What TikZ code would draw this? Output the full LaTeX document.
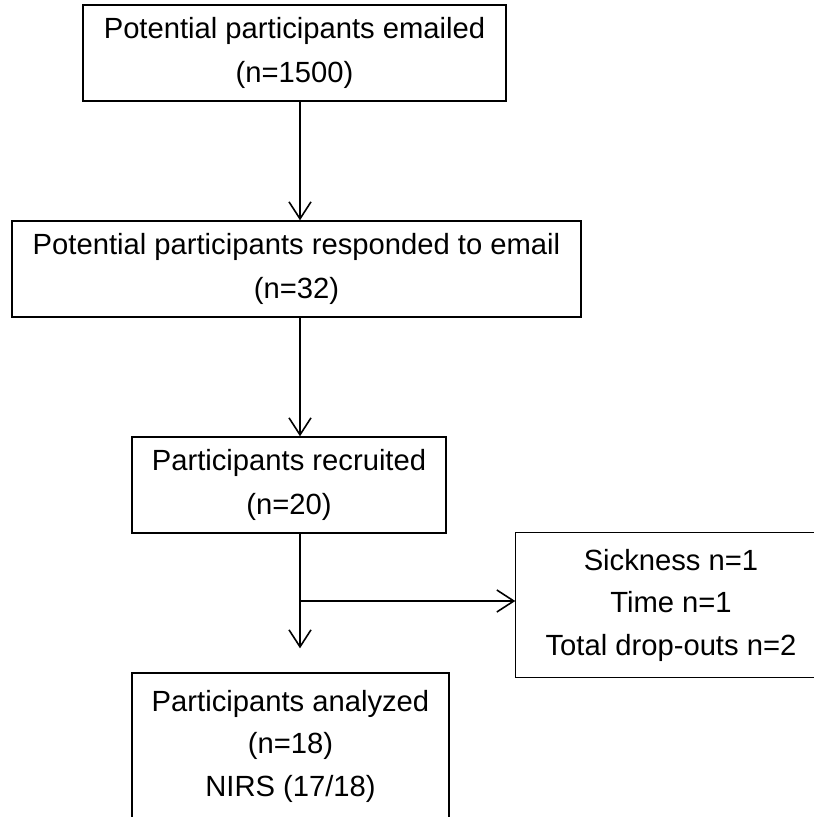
\documentclass[tikz,border=0pt]{standalone}
\usepackage{fontspec}
\setmainfont{Liberation Sans}
\usetikzlibrary{arrows.meta}
\begin{document}
\begin{tikzpicture}[x=1pt,y=-1pt,
  box/.style={draw,line width=1.4pt,inner sep=0pt,align=center,
    font=\fontsize{29.2pt}{43.5pt}\selectfont},
  box3/.style={box,font=\fontsize{29.2pt}{42.5pt}\selectfont},
  edge/.style={line width=1.4pt},
  conn/.style={line width=1.6pt,-{Straight Barb[length=17pt,width=22pt,line width=1.6pt]}}]
\useasboundingbox (0,0) rectangle (814,817);
\node[box,minimum width=423pt,minimum height=96pt] (b1) at (294.5,53)
  {Potential participants emailed\\(n=1500)};
\node[box,minimum width=569pt,minimum height=96pt] (b2) at (296.5,269)
  {Potential participants responded to email\\(n=32)};
\node[box,minimum width=314pt,minimum height=96pt] (b3) at (289,485)
  {Participants recruited\\(n=20)};
\node[box3,draw=none,minimum width=310pt,minimum height=144pt] (side) at (671,605)
  {Sickness n=1\\Time n=1\\Total drop-outs n=2};
\draw[edge] ([xshift=40pt]side.north east) -- (side.north west)
  -- (side.south west) -- ([xshift=40pt]side.south east);
\node[box3,minimum width=317pt,minimum height=146pt] (b4) at (290.5,746)
  {Participants analyzed\\(n=18)\\NIRS (17/18)};
\coordinate (ax) at (300,0);
\coordinate (br) at (300,601);
\draw[conn] (b1.south -| ax) -- (b2.north -| ax);
\draw[conn] (b2.south -| ax) -- (b3.north -| ax);
\draw[conn,shorten >=24pt] (b3.south -| ax) -- (b4.north -| ax);
\draw[conn] (br) -- (side.west |- br);
\end{tikzpicture}
\end{document}
